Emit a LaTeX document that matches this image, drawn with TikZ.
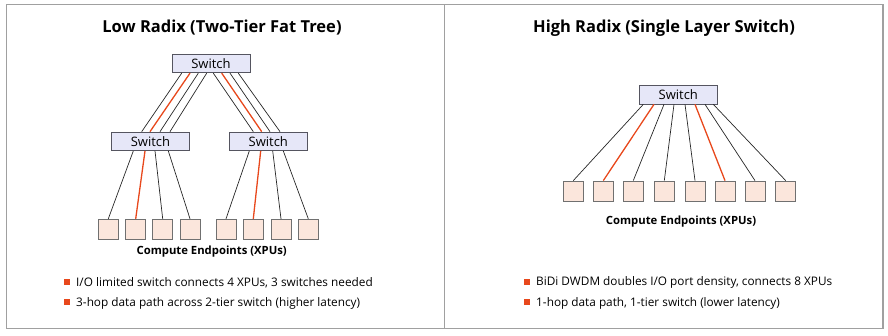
\documentclass[tikz,border=0pt]{standalone}
\usepackage{fontspec}
\setmainfont{Open Sans}
\usetikzlibrary{positioning}
\definecolor{frame}{HTML}{A0A0A0}
\definecolor{swfill}{HTML}{E6E7F8}
\definecolor{swdraw}{HTML}{555560}
\definecolor{epfill}{HTML}{FBE6DC}
\definecolor{epdraw}{HTML}{707070}
\definecolor{hot}{HTML}{E8481C}
\begin{document}
\begin{tikzpicture}[x=1pt,y=-1pt,
  swbox/.style={draw=swdraw,fill=swfill,line width=0.8pt,minimum width=78pt,minimum height=18.5pt,inner sep=0pt,font=\fontsize{13}{15}\selectfont},
  epbox/.style={draw=epdraw,fill=epfill,line width=0.8pt,minimum width=20pt,minimum height=20pt,inner sep=0pt},
  link/.style={draw=black!85,line width=0.7pt},
  hotlink/.style={draw=hot,line width=1.3pt},
  titletext/.style={font=\fontsize{16.5}{19}\selectfont\bfseries},
  eplabel/.style={font=\fontsize{11.3}{13}\selectfont\bfseries},
  bullettext/.style={anchor=west,inner sep=0pt,font=\fontsize{11.8}{14}\selectfont},
  bulletmark/.style={fill=hot,minimum size=5.7pt,inner sep=0pt},
  panel/.style={draw=frame,line width=1.5pt}
]
\useasboundingbox (0,0) rectangle (888,335);
\draw[panel] (6.5,4.5) rectangle (883,328.5);
\draw[panel] (444.5,4.5) -- (444.5,328.5);

% ---------- left panel ----------
\node[titletext] (tl) at (222,28) {Low Radix (Two-Tier Fat Tree)};
\node[swbox] (T) at (211,63.5) {Switch};
\node[swbox] (L) at (150.5,141.3) {Switch};
\node[swbox] (R) at (268.3,141.3) {Switch};

\foreach \i/\x in {1/108.3,2/135.7,3/162.7,4/190,5/226,6/253.3,7/281,8/308.3}
  \node[epbox] (e\i) at (\x,229.2) {};

% top to left switch
\draw[link]    ([xshift=-29.3pt]T.south) -- ([xshift=-8.8pt]L.north);
\draw[hotlink] ([xshift=-21pt]T.south)   -- ([xshift=-0.5pt]L.north);
\draw[link]    ([xshift=-12.7pt]T.south) -- ([xshift=9.5pt]L.north);
\draw[link]    ([xshift=-4.3pt]T.south)  -- ([xshift=19.5pt]L.north);
% top to right switch
\draw[link]    ([xshift=2.3pt]T.south)   -- ([xshift=-15pt]R.north);
\draw[hotlink] ([xshift=10.7pt]T.south)  -- ([xshift=-6.6pt]R.north);
\draw[link]    ([xshift=19pt]T.south)    -- ([xshift=1.7pt]R.north);
\draw[link]    ([xshift=27.3pt]T.south)  -- ([xshift=11.7pt]R.north);
% left switch to endpoints
\draw[link]    ([xshift=-17.2pt]L.south) -- (e1.north);
\draw[hotlink] ([xshift=-5.5pt]L.south)  -- (e2.north);
\draw[link]    ([xshift=4.5pt]L.south)   -- (e3.north);
\draw[link]    ([xshift=17.8pt]L.south)  -- (e4.north);
% right switch to endpoints
\draw[link]    ([xshift=-19pt]R.south)   -- (e5.north);
\draw[hotlink] ([xshift=-7.6pt]R.south)  -- (e6.north);
\draw[link]    ([xshift=4.4pt]R.south)   -- (e7.north);
\draw[link]    ([xshift=15pt]R.south)    -- (e8.north);

\node[eplabel] (cl) at (211.7,252) {Compute Endpoints (XPUs)};

\node[bulletmark] (b1) at (67.2,281.7) {};
\node[bullettext] (t1) at (76,282.7) {I/O limited switch connects 4 XPUs, 3 switches needed};
\node[bulletmark] (b2) at (67.2,302.3) {};
\node[bullettext] (t2) at (76,303.3) {3-hop data path across 2-tier switch (higher latency)};

% ---------- right panel ----------
\node[titletext] (tr) at (664,28) {High Radix (Single Layer Switch)};
\node[swbox] (S) at (678.3,94.7) {Switch};
\foreach \i/\x in {1/573.3,2/603.3,3/633.3,4/664.3,5/695,6/725,7/755,8/785.7}
  \node[epbox] (f\i) at (\x,191) {};
\draw[link]    ([xshift=-35pt]S.south)   -- (f1.north);
\draw[hotlink] ([xshift=-24.3pt]S.south) -- (f2.north);
\draw[link]    ([xshift=-14.3pt]S.south) -- (f3.north);
\draw[link]    ([xshift=-4.3pt]S.south)  -- (f4.north);
\draw[link]    ([xshift=6.7pt]S.south)   -- (f5.north);
\draw[hotlink] ([xshift=16.7pt]S.south)  -- (f6.north);
\draw[link]    ([xshift=26.7pt]S.south)  -- (f7.north);
\draw[link]    ([xshift=35pt]S.south)    -- (f8.north);

\node[eplabel] (cr) at (681,221.7) {Compute Endpoints (XPUs)};

\node[bulletmark] (b3) at (527.2,281.7) {};
\node[bullettext] (t3) at (536,282.7) {BiDi DWDM doubles I/O port density, connects 8 XPUs};
\node[bulletmark] (b4) at (527.2,302.3) {};
\node[bullettext] (t4) at (536,303.3) {1-hop data path, 1-tier switch (lower latency)};
\end{tikzpicture}
\end{document}
